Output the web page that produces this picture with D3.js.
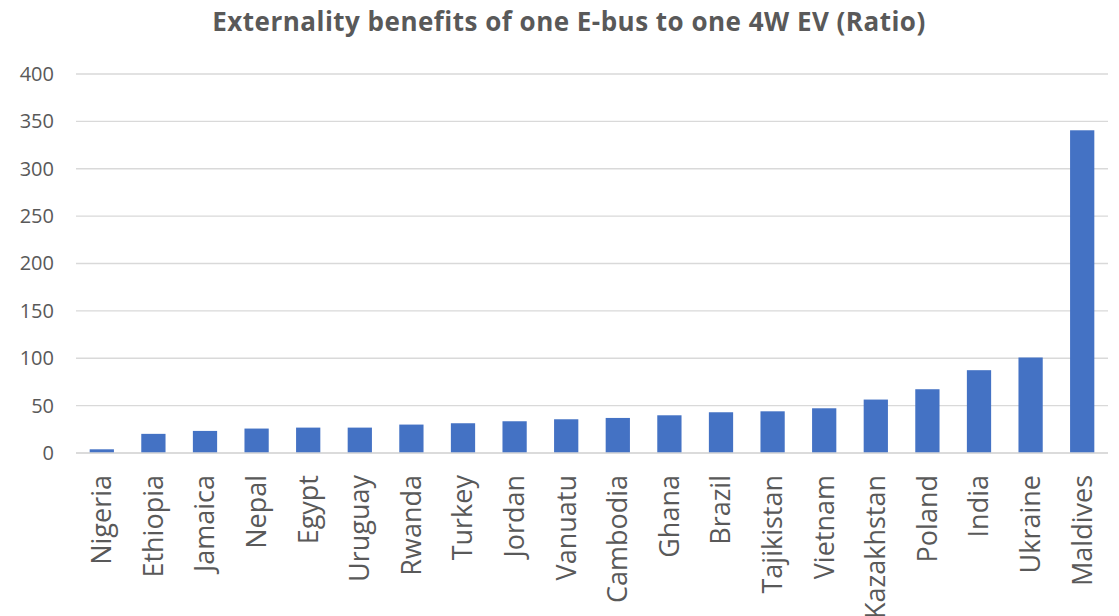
<!DOCTYPE html>
<html><head><meta charset="utf-8">
<script src="https://cdn.jsdelivr.net/npm/d3@7"></script>
<style>
html,body{margin:0;padding:0;background:#fff;}
svg{display:block;}
text{font-family:"Open Sans",sans-serif;fill:#595959;}
</style></head>
<body>
<svg id="chart" width="1119" height="616"></svg>
<script>
const titleText = "Externality benefits of one E-bus to one 4W EV (Ratio)";
const countries = ["Nigeria","Ethiopia","Jamaica","Nepal","Egypt","Uruguay","Rwanda","Turkey","Jordan","Vanuatu","Cambodia","Ghana","Brazil","Tajikistan","Vietnam","Kazakhstan","Poland","India","Ukraine","Maldives"];
const ratios = [3.9,20.2,23.3,25.8,26.8,26.8,30,31.4,33.5,35.6,37,39.8,43,44,47.2,56.4,67.3,87.4,100.8,340.6];
const yTicks = [0,50,100,150,200,250,300,350,400];

const svg = d3.select("#chart");
const margin = {left:76, right:11, top:74, bottom:163};
const W = 1119, H = 616;

const x = d3.scaleBand().domain(countries).range([margin.left, W - margin.right]).paddingInner(0.53).paddingOuter(0.265);
const y = d3.scaleLinear().domain([0,400]).range([H - margin.bottom, margin.top]);

// gridlines
svg.append("g").selectAll("line").data(yTicks).join("line")
  .attr("x1", margin.left).attr("x2", W - margin.right)
  .attr("y1", d => y(d)).attr("y2", d => y(d))
  .attr("stroke", "#d9d9d9").attr("stroke-width", 1.3);

// y axis labels
const yAxis = d3.axisLeft(y).tickValues(yTicks).tickSize(0).tickPadding(0);
const ya = svg.append("g").attr("transform", `translate(${54},0)`).call(yAxis);
ya.select(".domain").remove();
ya.selectAll("text").style("font-size","20px").style("font-family","'Open Sans',sans-serif").attr("fill","#595959");

// bars
svg.append("g").selectAll("rect").data(countries).join("rect")
  .attr("x", d => x(d)).attr("width", x.bandwidth())
  .attr("y", (d,i) => y(ratios[i])).attr("height", (d,i) => y(0) - y(ratios[i]))
  .attr("fill", "#4472c4");

// baseline
svg.append("line").attr("x1", margin.left).attr("x2", W - margin.right)
  .attr("y1", y(0)).attr("y2", y(0)).attr("stroke", "#d9d9d9").attr("stroke-width", 1.3);

// x axis labels
const xAxis = d3.axisBottom(x).tickSize(0).tickPadding(0);
const xa = svg.append("g").attr("transform", `translate(0,${y(0)})`).call(xAxis);
xa.select(".domain").remove();
xa.selectAll("text")
  .style("font-size","27px").style("font-family","'Open Sans',sans-serif").attr("fill","#595959")
  .attr("text-anchor","end").attr("y",0)
  .attr("transform","translate(0,22) rotate(-90)").attr("x",0).attr("dy","0.35em");

// title
const t = svg.append("text").attr("x", 569).attr("y", 31).attr("text-anchor","middle")
  .style("font-size","26px").style("font-weight","bold").text(titleText);
const len = t.node().getComputedTextLength();
const ls = (713 - len) / (titleText.length - 1);
t.style("letter-spacing", ls + "px");
</script>
</body></html>
